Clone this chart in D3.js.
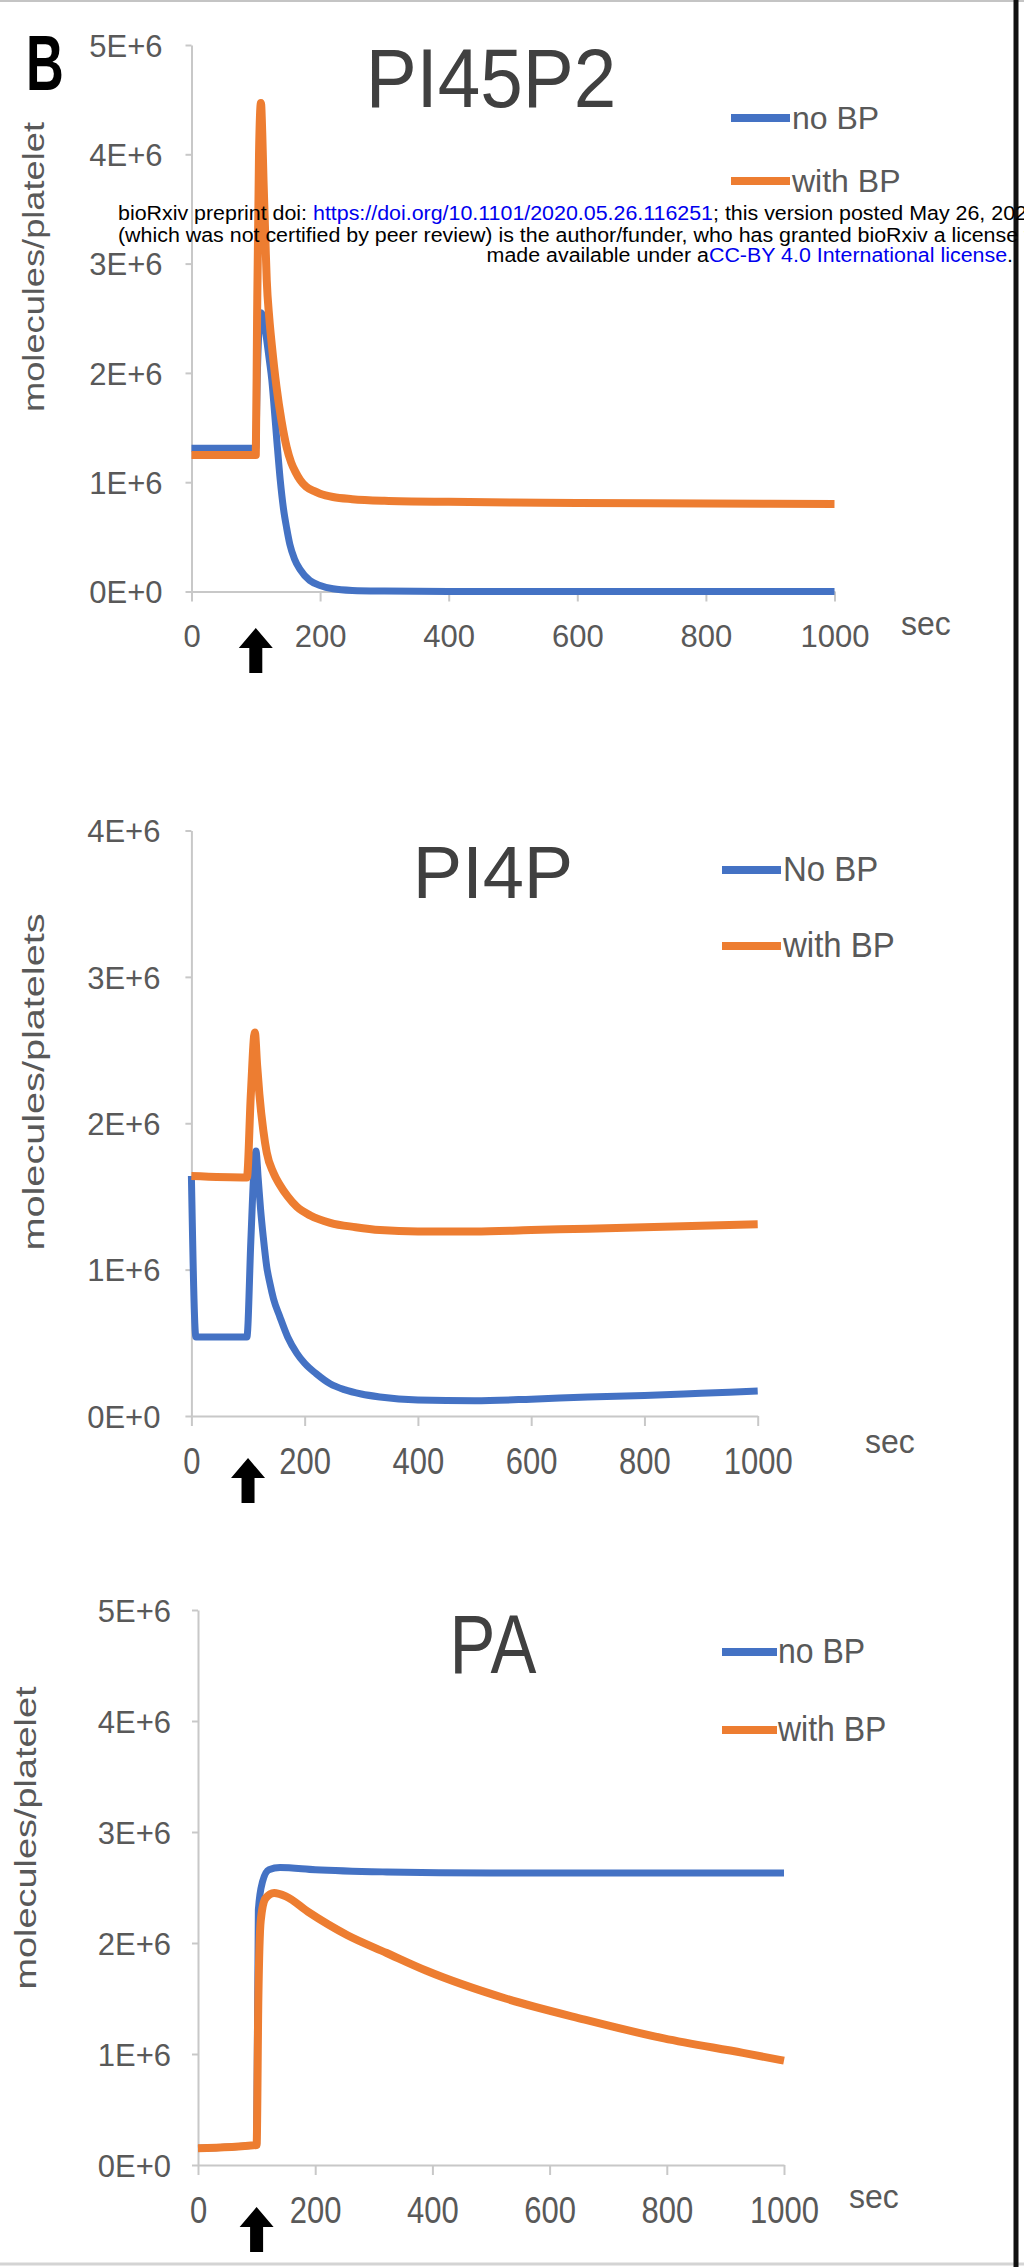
<!DOCTYPE html>
<html>
<meta charset="utf-8">
<head>
  <title>PI45P2, PI4P and PA with / without BP</title>
</head>

<style>
body {
  margin: 0;
  background: #fff;
}
svg text {
  font-family: "Liberation Sans", Arial, Helvetica, sans-serif;
}
.tick text {
  fill: #595959;
}
.tick line, .domain {
  stroke: #c8c8c8;
  stroke-width: 2px;
}
.title {
  fill: #404040;
}
.legend-text, .unit, .axis-label {
  fill: #595959;
}
.wm {
  font-size: 20px;
  fill: #000;
}
.wm tspan.link {
  fill: #0000ee;
}
</style>

<body>
  <div id="chart"></div>

  <script src="https://d3js.org/d3.v7.min.js"></script>
  <script>

// ---- data (values in molecules per platelet, time in sec) ----
var xTicks = [0, 200, 400, 600, 800, 1000];
var yTicks5 = [0, 1e6, 2e6, 3e6, 4e6, 5e6];
var yTicks4 = [0, 1e6, 2e6, 3e6, 4e6];
var stimulusTime = 100;

// PI45P2
var pi45p2NoBPTime = [0, 100, 102, 105, 108, 112, 117, 121, 125, 129, 133, 138, 143, 148, 153, 160, 169, 184, 200, 220, 250, 300, 400, 600, 800, 1000];
var pi45p2NoBP     = [1.31e6, 1.31e6, 1.9e6, 2.4e6, 2.55e6, 2.5e6, 2.3e6, 2.12e6, 1.93e6, 1.65e6, 1.36e6, 1.02e6, 0.76e6, 0.58e6, 0.43e6, 0.3e6, 0.2e6, 0.1e6, 0.055e6, 0.025e6, 0.01e6, 0.004e6, 0, 0, 0, 0];
var pi45p2WithBPTime = [0, 100, 102, 105, 108, 110, 112, 115, 117, 121, 125, 132, 140, 148, 155, 162, 169, 178, 190, 200, 220, 250, 300, 400, 500, 600, 800, 1000];
var pi45p2WithBP     = [1.25e6, 1.25e6, 2.5e6, 4.0e6, 4.47e6, 4.2e6, 3.76e6, 3.2e6, 2.85e6, 2.5e6, 2.25e6, 1.88e6, 1.56e6, 1.32e6, 1.18e6, 1.09e6, 1.02e6, 0.96e6, 0.92e6, 0.895e6, 0.865e6, 0.845e6, 0.83e6, 0.82e6, 0.815e6, 0.81e6, 0.805e6, 0.8e6];

// PI4P
var pi4pNoBPTime = [0, 8, 98, 105, 110, 114, 118, 122, 127, 133, 139, 145, 156, 170, 186, 200, 220, 245, 270, 300, 333, 400, 500, 600, 700, 800, 900, 1000];
var pi4pNoBP     = [1.64e6, 0.54e6, 0.54e6, 1.2e6, 1.65e6, 1.81e6, 1.62e6, 1.42e6, 1.22e6, 1.02e6, 0.9e6, 0.8e6, 0.68e6, 0.54e6, 0.43e6, 0.36e6, 0.29e6, 0.22e6, 0.18e6, 0.15e6, 0.13e6, 0.11e6, 0.105e6, 0.115e6, 0.13e6, 0.14e6, 0.155e6, 0.17e6];
var pi4pWithBPTime = [0, 98, 105, 112, 116, 120, 127, 133, 145, 156, 170, 186, 210, 245, 290, 333, 400, 500, 600, 700, 800, 900, 1000];
var pi4pWithBP     = [1.64e6, 1.63e6, 2.2e6, 2.62e6, 2.4e6, 2.2e6, 1.95e6, 1.8e6, 1.66e6, 1.58e6, 1.5e6, 1.43e6, 1.37e6, 1.32e6, 1.29e6, 1.27e6, 1.26e6, 1.26e6, 1.27e6, 1.28e6, 1.29e6, 1.3e6, 1.31e6];

// PA
var paNoBPTime = [0, 100, 103, 110, 121, 140, 200, 322, 500, 750, 1000];
var paNoBP     = [0.15e6, 0.18e6, 2.3e6, 2.55e6, 2.66e6, 2.68e6, 2.66e6, 2.64e6, 2.63e6, 2.63e6, 2.63e6];
var paWithBPTime = [0, 100, 103, 107, 115, 130, 150, 188, 255, 322, 390, 525, 660, 795, 930, 1000];
var paWithBP     = [0.15e6, 0.18e6, 1.5e6, 2.2e6, 2.4e6, 2.45e6, 2.42e6, 2.28e6, 2.07e6, 1.91e6, 1.75e6, 1.5e6, 1.31e6, 1.14e6, 1.01e6, 0.94e6];

var blue = "#4472c4";
var orange = "#ed7d31";

// ---- layout of the three stacked panels ----
var panels = [
  {
    title: "PI45P2", titleX: 491, titleY: 107, titleSize: 84, titleSx: 0.91,
    yLabel: "molecules/platelet", yLabelX: 33, yLabelY: 267, yLabelLen: 290,
    x0: 191.5, x1: 834.5, yBottom: 591.5, yTop: 45, yMax: 5e6, yTicks: yTicks5,
    yTickPad: 23, xLabelOff: 44, xSy: 1,
    secX: 901, secY: 635, arrowTop: 628,
    legendX1: 731, legendX2: 790, legendTextX: 792, legendY: [118, 181], legendSize: 32, legendSy: 1,
    names: ["no BP", "with BP"],
    series: [
      {t: pi45p2NoBPTime, v: pi45p2NoBP, color: blue},
      {t: pi45p2WithBPTime, v: pi45p2WithBP, color: orange}
    ]
  },
  {
    title: "PI4P", titleX: 493, titleY: 898, titleSize: 74, titleSx: 1.0,
    yLabel: "molecules/platelets", yLabelX: 33, yLabelY: 1082, yLabelLen: 337,
    x0: 191.4, x1: 757.7, yBottom: 1416, yTop: 830.5, yMax: 4e6, yTicks: yTicks4,
    yTickPad: 25, xLabelOff: 45, xSy: 1.18,
    secX: 865, secY: 1453, arrowTop: 1458,
    legendX1: 722, legendX2: 781, legendTextX: 783, legendY: [870, 946], legendSize: 33, legendSy: 1.05,
    names: ["No BP", "with BP"],
    series: [
      {t: pi4pNoBPTime, v: pi4pNoBP, color: blue},
      {t: pi4pWithBPTime, v: pi4pWithBP, color: orange}
    ]
  },
  {
    title: "PA", titleX: 493, titleY: 1673, titleSize: 84, titleSx: 0.82,
    yLabel: "molecules/platelet", yLabelX: 25, yLabelY: 1838, yLabelLen: 303,
    x0: 198, x1: 784, yBottom: 2165, yTop: 1610, yMax: 5e6, yTicks: yTicks5,
    yTickPad: 21, xLabelOff: 45, xSy: 1.18,
    secX: 849, secY: 2208, arrowTop: 2207,
    legendX1: 722, legendX2: 777, legendTextX: 778, legendY: [1652, 1730], legendSize: 32, legendSy: 1.1,
    names: ["no BP", "with BP"],
    series: [
      {t: paNoBPTime, v: paNoBP, color: blue},
      {t: paWithBPTime, v: paWithBP, color: orange}
    ]
  }
];

var width = 1024, height = 2267;

var svg = d3.select("#chart")
  .append("svg")
  .attr("width", width)
  .attr("height", height);

// stretched text helper
function putText(g, x, y, str, cls, size, sx, sy, anchor) {
  return g.append("text")
    .attr("class", cls)
    .attr("transform", "translate(" + x + "," + y + ") scale(" + sx + "," + sy + ")")
    .attr("text-anchor", anchor || "start")
    .style("font-size", size + "px")
    .text(str);
}

function fmtE(v) {
  return v === 0 ? "0E+0" : (v / 1e6) + "E+6";
}

function drawPanel(p) {
  var g = svg.append("g");

  var x = d3.scaleLinear().domain([0, 1000]).range([p.x0, p.x1]);
  var y = d3.scaleLinear().domain([0, p.yMax]).range([p.yBottom, p.yTop]);

  // y axis
  var yAxis = g.append("g")
    .attr("transform", "translate(" + p.x0 + ",0)")
    .call(d3.axisLeft(y).tickValues(p.yTicks).tickSize(6).tickSizeOuter(0)
      .tickPadding(p.yTickPad).tickFormat(fmtE));
  yAxis.selectAll("text")
    .style("font-family", '"Liberation Sans", Arial, sans-serif')
    .style("font-size", "31px")
    .attr("dy", "0.36em");

  // x axis
  var xAxis = g.append("g")
    .attr("transform", "translate(0," + p.yBottom + ")")
    .call(d3.axisBottom(x).tickValues(xTicks).tickSize(10).tickSizeOuter(0)
      .tickFormat(d3.format("d")));
  xAxis.selectAll("text")
    .style("font-family", '"Liberation Sans", Arial, sans-serif')
    .style("font-size", "31px")
    .attr("y", 0)
    .attr("dy", "0.36em")
    .attr("transform", "translate(0," + p.xLabelOff + ") scale(1," + p.xSy + ")");
  g.selectAll(".domain").attr("fill", "none");

  // series
  var line = d3.line()
    .x(function(d) { return x(d[0]); })
    .y(function(d) { return y(d[1]); })
    .curve(d3.curveMonotoneX);

  p.series.forEach(function(s) {
    var pts = s.t.map(function(t, i) { return [t, s.v[i]]; });
    g.append("path")
      .datum(pts)
      .attr("d", line)
      .attr("fill", "none")
      .attr("stroke", s.color)
      .attr("stroke-width", s.color === orange ? 8 : 7)
      .attr("stroke-linejoin", "round");
  });

  // title
  putText(g, p.titleX, p.titleY, p.title, "title", p.titleSize, p.titleSx, 1, "middle");

  // legend
  p.series.forEach(function(s, i) {
    g.append("line")
      .attr("x1", p.legendX1).attr("x2", p.legendX2)
      .attr("y1", p.legendY[i]).attr("y2", p.legendY[i])
      .attr("stroke", s.color)
      .attr("stroke-width", 8);
    putText(g, p.legendTextX, p.legendY[i] + 11, p.names[i], "legend-text", p.legendSize, 1, p.legendSy);
  });

  // y axis title
  g.append("text")
    .attr("class", "axis-label")
    .attr("transform", "translate(" + p.yLabelX + "," + p.yLabelY + ") rotate(-90)")
    .attr("text-anchor", "middle")
    .attr("dy", "0.35em")
    .attr("textLength", p.yLabelLen)
    .attr("lengthAdjust", "spacingAndGlyphs")
    .style("font-size", "30px")
    .text(p.yLabel);

  // unit
  putText(g, p.secX, p.secY, "sec", "unit", 32, 1, 1.05);

  // stimulus arrow
  var ax = x(stimulusTime), at = p.arrowTop;
  var arrow = d3.path();
  arrow.moveTo(ax, at);
  arrow.lineTo(ax + 17, at + 20);
  arrow.lineTo(ax + 6.5, at + 20);
  arrow.lineTo(ax + 6.5, at + 45);
  arrow.lineTo(ax - 6.5, at + 45);
  arrow.lineTo(ax - 6.5, at + 20);
  arrow.lineTo(ax - 17, at + 20);
  arrow.closePath();
  g.append("path").attr("d", arrow.toString()).attr("fill", "#000");
}

panels.forEach(drawPanel);

// panel letter
putText(svg, 26, 90, "B", "letter", 77, 0.68, 1).style("font-weight", "bold").attr("fill", "#000");

// frame lines
svg.append("line").attr("x1", 0).attr("x2", width).attr("y1", 1).attr("y2", 1)
  .attr("stroke", "#c4c4c4").attr("stroke-width", 2);
svg.append("line").attr("x1", 0).attr("x2", width).attr("y1", 2264).attr("y2", 2264)
  .attr("stroke", "#d4d4d4").attr("stroke-width", 3);
svg.append("line").attr("x1", 1016).attr("x2", 1016).attr("y1", 0).attr("y2", height)
  .attr("stroke", "#111").attr("stroke-width", 5);

// preprint watermark (runs past the right edge, as in the source page)
var wm = svg.append("g");
var l1 = wm.append("text").attr("class", "wm").attr("transform", "translate(118,220) scale(1.07,1)");
l1.append("tspan").text("bioRxiv preprint doi: ");
l1.append("tspan").attr("class", "link").text("https://doi.org/10.1101/2020.05.26.116251");
l1.append("tspan").text("; this version posted May 26, 2020. The copyright holder for this preprint");

wm.append("text").attr("class", "wm").attr("transform", "translate(118,241.5) scale(1.07,1)")
  .text("(which was not certified by peer review) is the author/funder, who has granted bioRxiv a license to display the preprint in perpetuity. It is");

var l3 = wm.append("text").attr("class", "wm").attr("text-anchor", "end")
  .attr("transform", "translate(1013,262) scale(1.07,1)");
l3.append("tspan").text("made available under a");
l3.append("tspan").attr("class", "link").text("CC-BY 4.0 International license");
l3.append("tspan").text(".");

  </script>
</body>
</html>
